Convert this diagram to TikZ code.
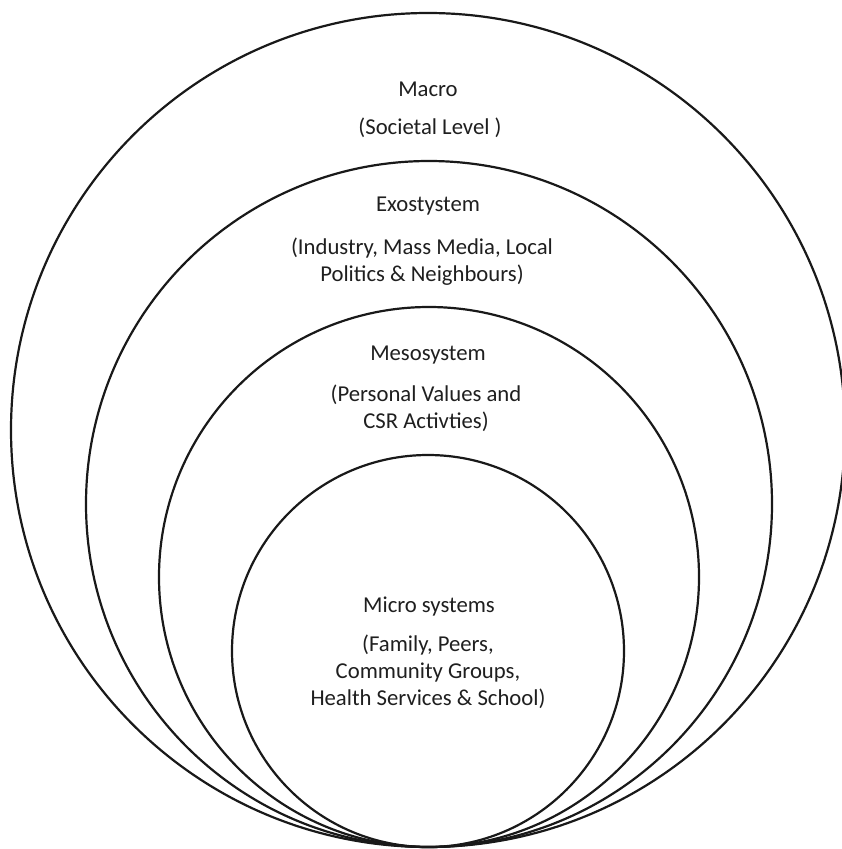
\documentclass[tikz,border=0pt]{standalone}
\usepackage{fontspec}
\setmainfont{Carlito}
\begin{document}
\begin{tikzpicture}[x=1pt,y=-1pt,
  ring/.style={draw=black!90,line width=2.2pt},
  lbl/.style={font=\fontsize{22.7}{27}\selectfont,text=black!88,align=center,inner sep=0pt}]
\useasboundingbox (0,0) rectangle (842,849);
\fill[white] (0,0) rectangle (842,849);
\draw[ring] (428,430) circle[radius=417];
\draw[ring] (429,504) circle[radius=343];
\draw[ring] (429,577) circle[radius=270];
\draw[ring] (428,651) circle[radius=196];
\node[lbl] (macro) at (428,89) {Macro};
\node[lbl] (macrod) at (430,128) {(Societal Level )};
\node[lbl] (exo) at (428,206) {Exostystem};
\node[lbl] (exod) at (422,262) {(Industry, Mass Media, Local\\Politics \& Neighbours)};
\node[lbl] (meso) at (428,355) {Mesosystem};
\node[lbl] (mesod) at (426,408) {(Personal Values and\\CSR Activties)};
\node[lbl] (micro) at (429,607) {Micro systems};
\node[lbl] (microd) at (428,672) {(Family, Peers,\\Community Groups,\\Health Services \& School)};
\end{tikzpicture}
\end{document}
